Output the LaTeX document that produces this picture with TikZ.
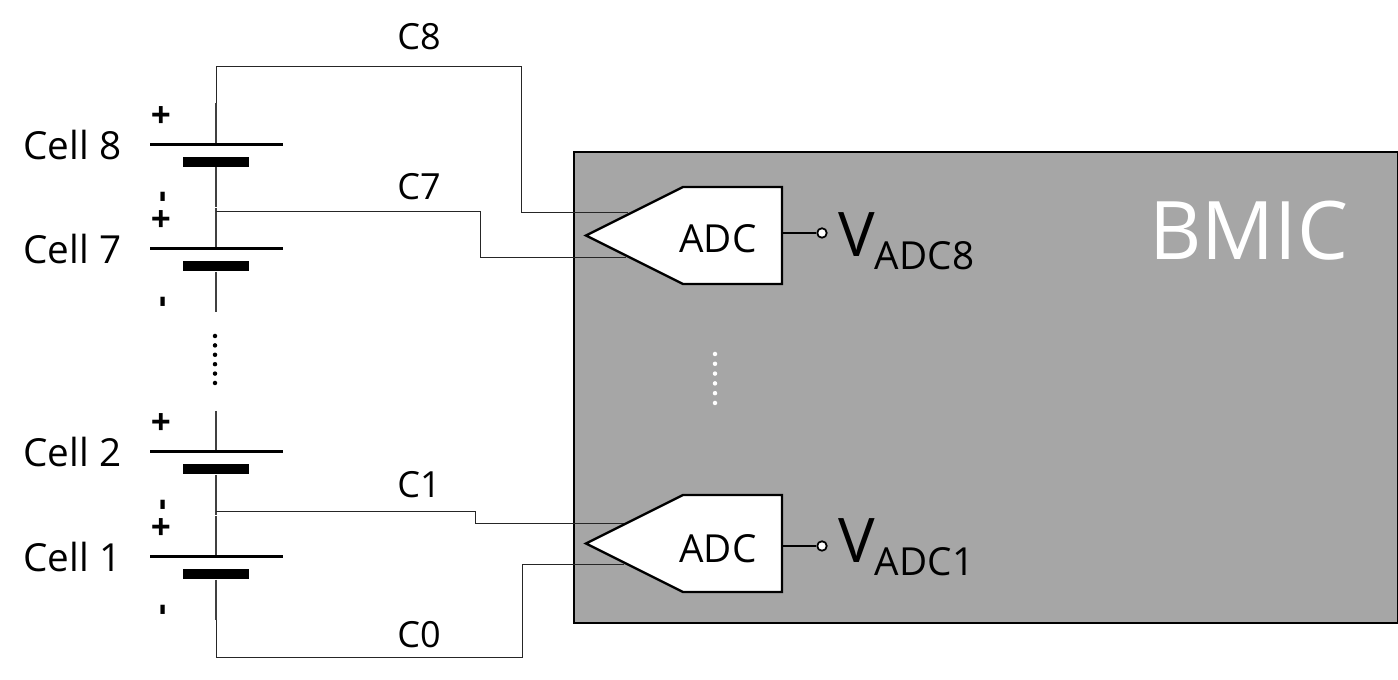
\documentclass[tikz,border=0pt]{standalone}
\usepackage{fontspec}
\setmainfont{Open Sans}
\usetikzlibrary{shapes.symbols}
\tikzset{
  wire/.style={line width=0.55pt, black!85},
  lead/.style={line width=1pt, black!75},
  longplate/.style={fill=black, inner sep=0pt, minimum width=2.66cm, minimum height=0.06cm},
  shortplate/.style={fill=black, inner sep=0pt, minimum width=1.32cm, minimum height=0.2cm},
  chip/.style={draw=black, fill=black!35, line width=1.2pt, inner sep=0pt, anchor=north west,
    minimum width=16.48cm, minimum height=9.42cm},
  adc/.style={draw=black, fill=white, line width=1.3pt, inner sep=0pt, signal, signal to=west,
    signal pointer angle=53.13, minimum width=3.92cm, minimum height=1.94cm},
  pin/.style={circle, draw=black, fill=white, line width=1pt, inner sep=0pt, minimum size=0.19cm},
  txt/.style={font=\fontsize{20.5}{24}\selectfont, inner sep=0pt},
  bigtxt/.style={font=\fontsize{22}{24}\selectfont, inner sep=0pt},
  sign/.style={font=\fontsize{20}{24}\selectfont\bfseries, inner sep=0pt},
}
\newcommand{\vout}[1]{\fontsize{35}{38}\selectfont V\raisebox{-0.26cm}{\fontsize{22}{24}\selectfont ADC#1}}
\begin{document}
\begin{tikzpicture}
    \useasboundingbox (0,0) rectangle (27.96,13.6);
    \node[chip] (bmic) at (11.46,10.58) {};
    \node[inner sep=0pt, anchor=base west, white, font=\fontsize{46}{48}\selectfont] (bmictext) at (22.98,8.41) {BMIC};
    \foreach \id/\yy/\lab in {8/10.71/Cell 8, 7/8.62/Cell 7, 2/4.56/Cell 2, 1/2.46/Cell 1} {
      \coordinate (top\id) at (4.32,\yy+0.82);
      \coordinate (bot\id) at (4.32,\yy-1.26);
      \node[longplate] (long\id) at (4.32,\yy) {};
      \node[shortplate] (short\id) at (4.32,\yy-0.35) {};
      \draw[lead] (top\id) -- (long\id);
      \draw[lead] (short\id) -- (bot\id);
      \node[bigtxt, anchor=base west] (cell\id) at (0.46,\yy-0.3) {\lab};
      \node[sign] (plus\id) at (3.22,\yy+0.55) {+};
      \node[sign, rotate=90] (minus\id) at (3.34,\yy-1.05) {-};
    }
    \foreach \i in {0,...,5} {
      \fill (4.3,6.88-0.188*\i) circle (0.045);
      \fill[white] (14.3,6.52-0.196*\i) circle (0.045);
    }
    \coordinate (tap7) at (4.32,9.38);
    \coordinate (tap1) at (4.32,3.38);
    \coordinate (in8) at (12.56,9.36);
    \coordinate (in7) at (12.52,8.46);
    \coordinate (in1) at (12.48,3.14);
    \coordinate (in0) at (12.48,2.32);
    \draw[wire] (top8) |- (10.42,12.28) |- (in8);
    \draw[wire] (tap7) -| (9.6,8.46) -- (in7);
    \draw[wire] (tap1) -| (9.5,3.14) -- (in1);
    \draw[wire] (bot1) |- (10.44,0.46) |- (in0);
    \node[txt] (c8) at (8.38,12.86) {C8};
    \node[txt] (c7) at (8.38,9.86) {C7};
    \node[txt] (c1) at (8.38,3.9) {C1};
    \node[txt] (c0) at (8.38,0.9) {C0};
    \node[adc] (adc8) at (14.65,8.89) {};
    \node[adc] (adc1) at (14.65,2.73) {};
    \node[bigtxt] (adc8text) at (14.36,8.82) {ADC};
    \node[bigtxt] (adc1text) at (14.36,2.62) {ADC};
    \node[pin] (pin8) at (16.44,8.94) {};
    \node[pin] (pin1) at (16.44,2.68) {};
    \draw[line width=1.1pt] (adc8.east |- pin8) -- (pin8);
    \draw[line width=1.1pt] (adc1.east |- pin1) -- (pin1);
    \node[inner sep=0pt, anchor=base west] (v8) at (16.76,8.46) {\vout{8}};
    \node[inner sep=0pt, anchor=base west] (v1) at (16.76,2.34) {\vout{1}};
  \end{tikzpicture}
\end{document}
